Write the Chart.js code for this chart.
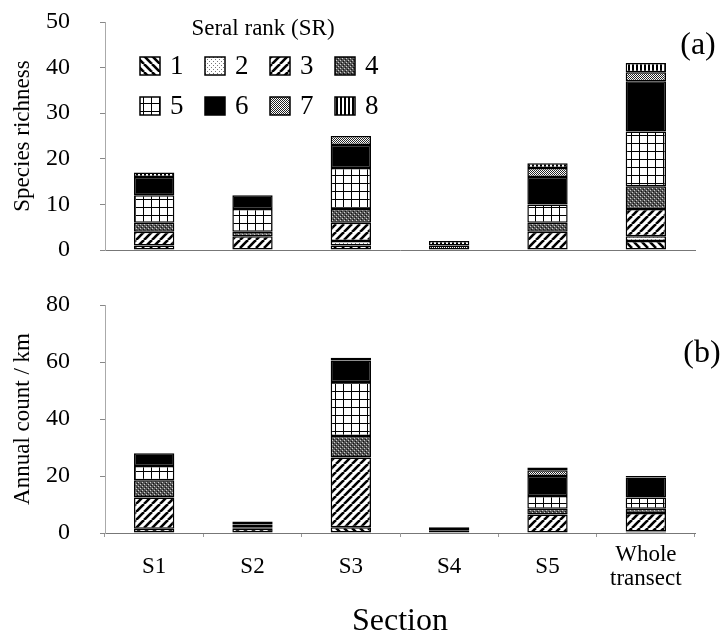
<!DOCTYPE html>
<html>
<head>
<meta charset="utf-8">
<script src="https://cdn.jsdelivr.net/npm/chart.js@4.4.1/dist/chart.umd.min.js"></script>
<style>
  body { margin: 0; background: #fff; width: 726px; height: 639px; position: relative; overflow: hidden; }
  #wrapA { position: absolute; left: 0; top: 0; width: 726px; height: 265px; }
  #wrapB { position: absolute; left: 0; top: 280px; width: 726px; height: 359px; }
</style>
</head>
<body>
<div id="wrapA"><canvas id="chartA"></canvas></div>
<div id="wrapB"><canvas id="chartB"></canvas></div>
<script>
// categories
const sections = ['S1', 'S2', 'S3', 'S4', 'S5', ['Whole', 'transect']];
const seralRanks = ['1', '2', '3', '4', '5', '6', '7', '8'];
const legendTitle = 'Seral rank (SR)';

// (a) species richness, one array per seral rank (S1..S5, whole transect)
const rich_sr1 = [1, 0, 1, 0, 0, 2];
const rich_sr2 = [0, 0, 1, 0, 0, 1];
const rich_sr3 = [3, 3, 4, 0, 4, 6];
const rich_sr4 = [2, 1, 3, 0, 2, 5];
const rich_sr5 = [6, 5, 9, 0, 4, 12];
const rich_sr6 = [4, 3, 5, 0, 6, 11];
const rich_sr7 = [0, 0, 2, 1, 2, 2];
const rich_sr8 = [1, 0, 0, 1, 1, 2];

// (b) annual count / km, one array per seral rank
const count_sr1 = [1.5, 0, 2, 0, 0, 0.5];
const count_sr2 = [0, 0, 0, 0, 0, 0];
const count_sr3 = [11, 1.5, 24.5, 0, 6.5, 6.5];
const count_sr4 = [6, 0.5, 7.5, 0, 2, 1.5];
const count_sr5 = [5, 1, 19, 0, 4.5, 4];
const count_sr6 = [4.5, 1, 7.5, 0, 7, 7];
const count_sr7 = [0, 0, 0, 1, 2, 0];
const count_sr8 = [0, 0, 1, 1, 1, 0.5];

const richTicks = [0, 10, 20, 30, 40, 50];
const countTicks = [0, 20, 40, 60, 80];

const richSeries = [rich_sr1, rich_sr2, rich_sr3, rich_sr4, rich_sr5, rich_sr6, rich_sr7, rich_sr8];
const countSeries = [count_sr1, count_sr2, count_sr3, count_sr4, count_sr5, count_sr6, count_sr7, count_sr8];

const serif = '"Liberation Serif", "DejaVu Serif", serif';

// black & white fill patterns for each seral rank
function makePattern(kind) {
  const c = document.createElement('canvas');
  const g = c.getContext('2d');
  let s = 8;
  if (kind === 2 || kind === 4) s = 4;
  if (kind === 7) s = 2;
  if (kind === 8) s = 4;
  c.width = s; c.height = s;
  g.fillStyle = '#fff';
  g.fillRect(0, 0, s, s);
  g.fillStyle = '#000';
  g.strokeStyle = '#000';
  if (kind === 1 || kind === 3) {
    g.lineWidth = 2.6;
    for (let x0 = -s; x0 <= s; x0 += s) {
      g.beginPath();
      if (kind === 1) { g.moveTo(x0, 0); g.lineTo(x0 + s, s); }
      else { g.moveTo(x0, s); g.lineTo(x0 + s, 0); }
      g.stroke();
    }
  } else if (kind === 2) {
    g.fillStyle = '#777';
    g.fillRect(1, 1, 1, 1);
    g.fillRect(3, 3, 1, 1);
  } else if (kind === 4) {
    g.fillStyle = '#555';
    g.fillRect(0, 0, s, s);
    g.fillStyle = '#ccc';
    g.fillRect(0, 0, 1, 1);
    g.fillRect(2, 2, 1, 1);
    g.fillStyle = '#111';
    g.fillRect(1, 3, 1, 1);
    g.fillRect(3, 1, 1, 1);
  } else if (kind === 5) {
    g.fillRect(0, 7, 8, 1.4);
    g.fillRect(7, 0, 1.4, 8);
  } else if (kind === 6) {
    g.fillRect(0, 0, s, s);
  } else if (kind === 7) {
    g.fillStyle = '#222';
    g.fillRect(0, 0, 1, 1);
    g.fillRect(1, 1, 1, 1);
  } else if (kind === 8) {
    g.fillRect(0, 0, 2, s);
  }
  return g.createPattern(c, 'repeat');
}
const fills = seralRanks.map((r, i) => makePattern(i + 1));

function buildDatasets(series) {
  return series.map((vals, i) => ({
    label: seralRanks[i],
    data: vals,
    backgroundColor: fills[i],
    borderColor: '#000',
    borderWidth: 1.5,
    borderSkipped: false,
    categoryPercentage: 1,
    barPercentage: 0.41
  }));
}

const seralLegend = {
  id: 'seralLegend',
  afterDraw(chart) {
    const ctx = chart.ctx;
    ctx.save();
    ctx.fillStyle = '#000';
    ctx.textBaseline = 'middle';
    ctx.textAlign = 'center';
    ctx.font = '23px ' + serif;
    ctx.fillText(legendTitle, 263, 29);
    chart.data.datasets.forEach((ds, i) => {
      const x = 140 + (i % 4) * 65;
      const y = 57 + Math.floor(i / 4) * 40;
      ctx.fillStyle = ds.backgroundColor;
      ctx.fillRect(x, y, 20, 18);
      ctx.strokeStyle = '#000';
      ctx.lineWidth = 1.5;
      ctx.strokeRect(x, y, 20, 18);
      ctx.fillStyle = '#000';
      ctx.textAlign = 'left';
      ctx.font = '27px ' + serif;
      ctx.fillText(ds.label, x + 30, y + 10);
    });
    ctx.restore();
  }
};

const panelTag = {
  id: 'panelTag',
  afterDraw(chart, args, opts) {
    const ctx = chart.ctx;
    ctx.save();
    ctx.fillStyle = '#000';
    ctx.font = '32px ' + serif;
    ctx.textAlign = 'center';
    ctx.textBaseline = 'middle';
    ctx.fillText(opts.text, opts.x, opts.y);
    ctx.restore();
  }
};

function yScale(title, max, step) {
  return {
    stacked: true,
    min: 0,
    max: max,
    // fixed axis width; label overhang must not push the plot area in
    afterFit: s => { s.width = 105; s.paddingTop = 0; s.paddingBottom = 0; },
    border: { display: true, color: '#aaa', dash: [2, 2], width: 1 },
    grid: { display: true, drawOnChartArea: false, drawTicks: true, tickLength: 5, color: '#888' },
    ticks: { stepSize: step, color: '#000', padding: 30, font: { family: serif, size: 24 } },
    title: { display: true, text: title, color: '#000', padding: { top: 9, bottom: 0 }, font: { family: serif, size: 23 } }
  };
}

const chartA = new Chart(document.getElementById('chartA'), {
  type: 'bar',
  data: { labels: sections, datasets: buildDatasets(richSeries) },
  options: {
    responsive: true,
    maintainAspectRatio: false,
    animation: false,
    layout: { padding: { top: 22, right: 31, bottom: 15, left: 0 } },
    plugins: {
      legend: { display: false },
      tooltip: { enabled: false },
      panelTag: { text: '(a)', x: 698, y: 46 }
    },
    scales: {
      x: {
        stacked: true,
        afterFit: s => { s.height = 0; },
        border: { display: true, color: '#777', width: 1 },
        grid: { display: false },
        ticks: { display: false }
      },
      y: yScale('Species richness', richTicks[richTicks.length - 1], richTicks[1] - richTicks[0])
    }
  },
  plugins: [seralLegend, panelTag]
});

const chartB = new Chart(document.getElementById('chartB'), {
  type: 'bar',
  data: { labels: sections, datasets: buildDatasets(countSeries) },
  options: {
    responsive: true,
    maintainAspectRatio: false,
    animation: false,
    layout: { padding: { top: 25, right: 31, bottom: 0, left: 0 } },
    plugins: {
      legend: { display: false },
      tooltip: { enabled: false },
      panelTag: { text: '(b)', x: 702, y: 74 }
    },
    scales: {
      x: {
        stacked: true,
        afterFit: s => { s.height = 106; },
        border: { display: true, color: '#777', width: 1 },
        grid: { display: true, offset: true, drawOnChartArea: false, tickLength: 4, color: '#999' },
        ticks: { color: '#000', padding: 18, crossAlign: 'center', font: { family: serif, size: 23, lineHeight: 1.02 } },
        title: { display: true, text: 'Section', color: '#000', padding: { top: 0, bottom: 1 }, font: { family: serif, size: 32, lineHeight: 1 } }
      },
      y: yScale('Annual count / km', countTicks[countTicks.length - 1], countTicks[1] - countTicks[0])
    }
  },
  plugins: [panelTag]
});
</script>
</body>
</html>
